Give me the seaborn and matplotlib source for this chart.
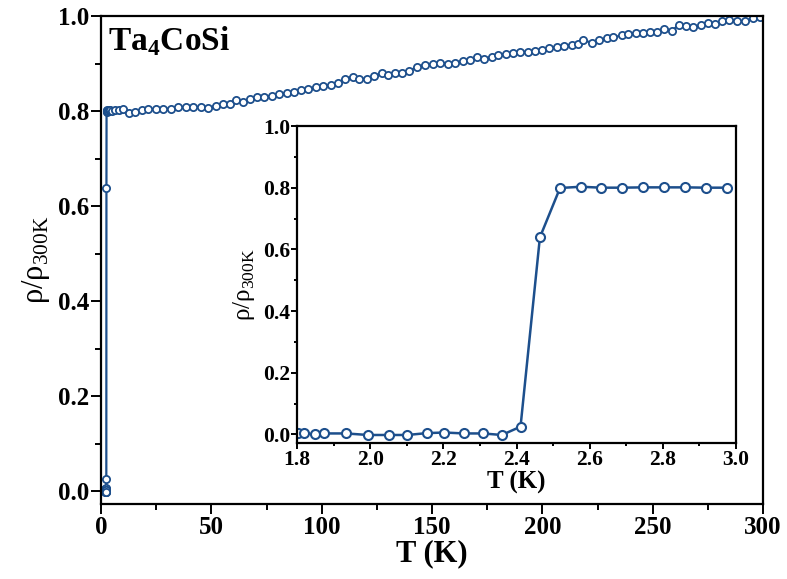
import numpy as np
import pandas as pd
import matplotlib
matplotlib.use("Agg")
import matplotlib.pyplot as plt
from matplotlib.ticker import MultipleLocator, FormatStrFormatter
import seaborn as sns

# ---- data ----
# low-temperature transition (inset range)
T_low = [1.804, 1.818, 1.849, 1.875, 1.934, 1.994, 2.051, 2.102, 2.154, 2.203,
         2.256, 2.308, 2.360, 2.411, 2.464, 2.519, 2.576, 2.631, 2.688, 2.746,
         2.803, 2.861, 2.918, 2.976]
R_low = [0.003, 0.004, 0.000, 0.003, 0.003, -0.002, -0.002, -0.002, 0.004, 0.006,
         0.003, 0.003, -0.002, 0.025, 0.639, 0.799, 0.803, 0.800, 0.800, 0.801,
         0.801, 0.801, 0.800, 0.800]
# normal state up to 300 K
T_high = [3.3, 3.7, 4.1, 5.0, 6.3, 8.0, 10.1, 12.8, 15.4, 18.4, 21.4, 24.9, 28.2, 31.7,
          35.0, 38.5, 41.8, 45.3, 48.6, 52.1, 55.4, 58.5, 61.2, 64.2, 67.5,
          70.5, 73.9, 77.3, 80.8, 84.1, 87.4, 90.5, 93.9, 97.4, 100.7, 104.1,
          107.5, 110.6, 114.0, 117.0, 120.4, 123.7, 127.2, 130.2, 133.2, 136.2,
          139.7, 143.0, 146.8, 150.3, 153.6, 157.1, 160.4, 163.9, 167.2, 170.2,
          173.5, 177.0, 180.0, 183.5, 186.8, 189.8, 193.6, 196.7, 199.7, 203.1,
          206.5, 209.9, 213.3, 216.3, 218.5, 222.3, 225.6, 229.1, 232.1, 235.9,
          238.9, 242.4, 245.7, 248.8, 251.8, 255.1, 258.6, 261.9, 265.1, 268.4,
          271.7, 275.2, 278.2, 281.2, 284.7, 288.3, 291.8, 295.3, 298.6]
R_high = [0.801, 0.802, 0.802, 0.801, 0.802, 0.802, 0.804, 0.796, 0.798, 0.802, 0.804,
          0.804, 0.805, 0.805, 0.808, 0.809, 0.809, 0.808, 0.806, 0.811, 0.814,
          0.814, 0.823, 0.819, 0.825, 0.829, 0.830, 0.832, 0.835, 0.837, 0.841,
          0.844, 0.847, 0.850, 0.853, 0.855, 0.858, 0.868, 0.872, 0.868, 0.868,
          0.874, 0.879, 0.875, 0.881, 0.881, 0.884, 0.893, 0.897, 0.898, 0.902,
          0.899, 0.902, 0.905, 0.907, 0.914, 0.910, 0.914, 0.917, 0.921, 0.923,
          0.924, 0.925, 0.926, 0.928, 0.933, 0.935, 0.937, 0.940, 0.941, 0.949,
          0.944, 0.949, 0.953, 0.955, 0.959, 0.962, 0.964, 0.965, 0.966, 0.967,
          0.973, 0.969, 0.981, 0.979, 0.976, 0.981, 0.986, 0.983, 0.990, 0.992,
          0.990, 0.989, 0.995, 0.997]

main_x_ticks = [0, 50, 100, 150, 200, 250, 300]
inset_x_ticks = [1.8, 2.0, 2.2, 2.4, 2.6, 2.8, 3.0]
y_ticks = [0.0, 0.2, 0.4, 0.6, 0.8, 1.0]

df_low = pd.DataFrame({"T": T_low, "R": R_low})
df_all = pd.DataFrame({"T": T_low + T_high, "R": R_low + R_high})

# ---- style ----
sns.set_theme(style="white")
plt.rcParams["font.family"] = ["Liberation Serif", "DejaVu Serif"]
plt.rcParams["font.weight"] = "bold"
plt.rcParams["axes.labelweight"] = "bold"
plt.rcParams["mathtext.fontset"] = "custom"
plt.rcParams["mathtext.rm"] = "Liberation Serif"
plt.rcParams["mathtext.bf"] = "Liberation Serif:bold"
plt.rcParams["text.color"] = "black"
plt.rcParams["axes.labelcolor"] = "black"
plt.rcParams["xtick.color"] = "black"
plt.rcParams["ytick.color"] = "black"

color = "#1d4f8c"
W, H = 787, 579
fig = plt.figure(figsize=(W / 100, H / 100), dpi=100)

def style_axes(ax, tsize, major_len, minor_len, pad):
    for s in ax.spines.values():
        s.set_linewidth(1.6)
        s.set_color("black")
    ax.tick_params(which="both", direction="out", bottom=True, left=True,
                   top=False, right=False, width=1.4, colors="black",
                   labelsize=tsize)
    ax.tick_params(which="major", length=major_len, pad=pad)
    ax.tick_params(which="minor", length=minor_len)
    for lab in ax.get_xticklabels() + ax.get_yticklabels():
        lab.set_fontweight("bold")

# main axes
ax = fig.add_axes([101 / W, 1 - 504 / H, (763 - 101) / W, (504 - 16) / H])
sns.lineplot(data=df_all, x="T", y="R", ax=ax, sort=False, estimator=None,
             color=color, linewidth=1.6, marker="o", markersize=5.2,
             markerfacecolor="white", markeredgecolor=color, markeredgewidth=1.3)
ax.set_xlim(0, 300)
ax.set_ylim(-0.027, 1.0)
ax.set_xticks(main_x_ticks)
ax.set_yticks(y_ticks)
ax.xaxis.set_minor_locator(MultipleLocator(25))
ax.yaxis.set_minor_locator(MultipleLocator(0.1))
ax.yaxis.set_major_formatter(FormatStrFormatter("%.1f"))
ax.xaxis.set_major_formatter(FormatStrFormatter("%d"))
style_axes(ax, 18, 7, 4, 1.5)
ax.set_xlabel("T (K)", fontsize=22, fontweight="bold", labelpad=0)
ax.set_ylabel(r"ρ/ρ$_{\mathregular{300K}}$", fontsize=22, fontweight="normal",
              labelpad=4)
ax.text(0.011, 0.93, r"Ta$_{\mathbf{4}}$CoSi", transform=ax.transAxes,
        fontsize=24, fontweight="bold", va="baseline", ha="left")

# inset axes
axi = fig.add_axes([297 / W, 1 - 443 / H, (736 - 297) / W, (443 - 126) / H])
axi.set_facecolor("white")
sns.lineplot(data=df_low, x="T", y="R", ax=axi, sort=False, estimator=None,
             color=color, linewidth=1.8, marker="o", markersize=6.5,
             markerfacecolor="white", markeredgecolor=color, markeredgewidth=1.5)
axi.set_xlim(1.8, 3.0)
axi.set_ylim(-0.028, 1.0)
axi.set_xticks(inset_x_ticks)
axi.set_yticks(y_ticks)
axi.xaxis.set_minor_locator(MultipleLocator(0.1))
axi.yaxis.set_minor_locator(MultipleLocator(0.1))
axi.xaxis.set_major_formatter(FormatStrFormatter("%.1f"))
axi.yaxis.set_major_formatter(FormatStrFormatter("%.1f"))
style_axes(axi, 15.5, 4, 2.5, 1)
axi.set_xlabel("T (K)", fontsize=18, fontweight="bold", labelpad=1)
axi.set_ylabel(r"ρ/ρ$_{\mathregular{300K}}$", fontsize=18, fontweight="normal",
               labelpad=4)

fig.savefig("out.png", dpi=100)
